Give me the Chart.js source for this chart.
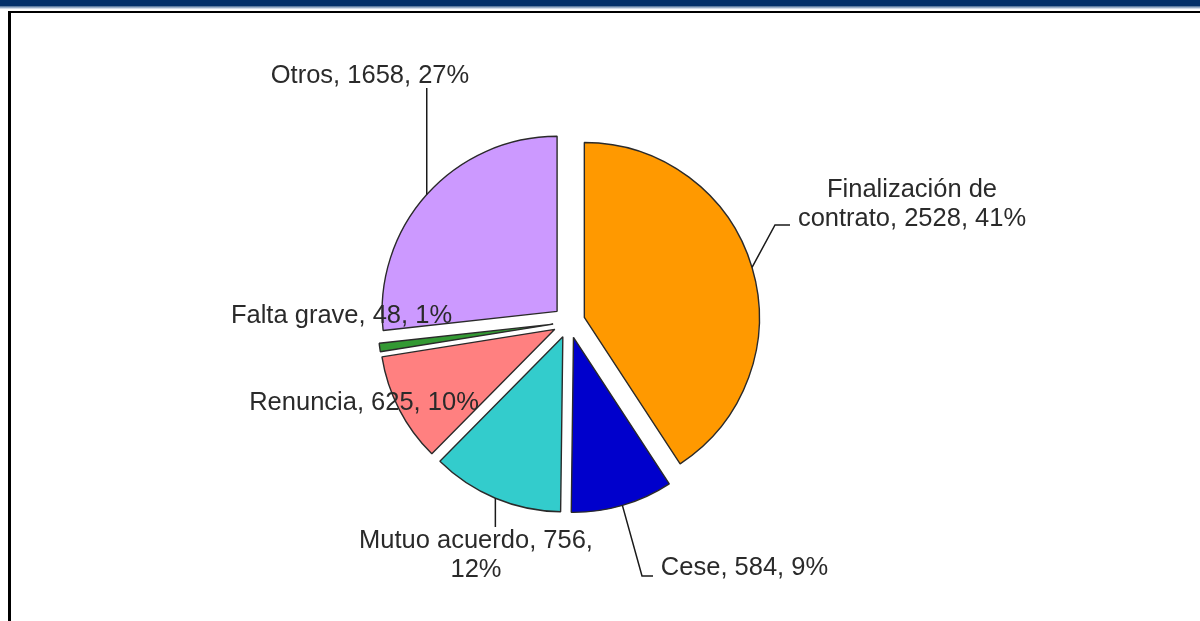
<!DOCTYPE html>
<html>
<head>
<meta charset="utf-8">
<script src="https://cdn.jsdelivr.net/npm/chart.js@4/dist/chart.umd.min.js"></script>
<style>
  html, body { margin: 0; padding: 0; background: #ffffff; }
  #page { position: relative; width: 1200px; height: 621px; overflow: hidden; background: #ffffff; }
  #band { position: absolute; left: 0; top: 0; width: 1200px; height: 6px; background: #03306a; }
  #band2 { position: absolute; left: 0; top: 6px; width: 1200px; height: 3px;
           background: linear-gradient(#41648f, #a9bcd3 60%, #eef2f7); }
  #frame { position: absolute; left: 8px; top: 11px; width: 1300px; height: 700px;
           border-left: 3px solid #000; border-top: 2px solid #000; }
  #chart { position: absolute; left: 0; top: 0; }
</style>
</head>
<body>
<div id="page">
  <div id="band"></div>
  <div id="band2"></div>
  <div id="frame"></div>
  <canvas id="chart" width="1200" height="621"></canvas>
</div>
<script>
// Motivos de baja
const categories = ['Finalización de contrato', 'Cese', 'Mutuo acuerdo', 'Renuncia', 'Falta grave', 'Otros'];
const values = [2528, 584, 756, 625, 48, 1658];
const sliceColors = ['#FF9900', '#0000CC', '#33CCCC', '#FF8080', '#339933', '#CC99FF'];

const total = values.reduce((a, b) => a + b, 0);
const labelTexts = categories.map((c, i) => `${c}, ${values[i]}, ${Math.round(values[i] / total * 100)}%`);

// Drawing settings
const EXPLODE = 16;          // distance each slice is pulled out from the centre
const FONT = '25.5px "Liberation Sans", Arial, sans-serif';
const LINE_H = 29;
const WRAP_W = 245;

// Label placement relative to the pie centre; leader points with null x keep the anchor's x
const labelLayout = [
  { dx: 343,   dy: -125, leader: [[206, -97], [221, -97]] },
  { dx: 175.5, dy: 253,  leader: [[73, 254], [84, 254]] },
  { dx: -93,   dy: 226,  leader: [[null, 205]] },
  { dx: -205,  dy: 88,   leader: [] },
  { dx: -227.5, dy: 1,   leader: [] },
  { dx: -199,  dy: -239, leader: [[null, -234]] }
];

function wrapText(ctx, text, maxW) {
  const words = text.split(' ');
  const lines = [];
  let cur = '';
  for (const w of words) {
    const test = cur ? cur + ' ' + w : w;
    if (cur && ctx.measureText(test).width > maxW) { lines.push(cur); cur = w; }
    else cur = test;
  }
  if (cur) lines.push(cur);
  return lines;
}

// Draws each arc shifted outward along its mid angle
const explodedSlices = {
  id: 'explodedSlices',
  beforeDatasetDraw(chart, args) {
    const ctx = chart.ctx;
    for (const arc of args.meta.data) {
      const mid = (arc.startAngle + arc.endAngle) / 2;
      ctx.save();
      ctx.translate(Math.cos(mid) * EXPLODE, Math.sin(mid) * EXPLODE);
      arc.draw(ctx, chart.chartArea);
      ctx.restore();
    }
    return false;
  }
};

// Data labels with leader lines
const sliceLabels = {
  id: 'sliceLabels',
  afterDraw(chart) {
    const ctx = chart.ctx;
    const arcs = chart.getDatasetMeta(0).data;
    ctx.save();
    ctx.font = FONT;
    ctx.fillStyle = '#2a2a2a';
    ctx.strokeStyle = '#1a1a1a';
    ctx.lineWidth = 1.5;
    arcs.forEach((arc, i) => {
      const lay = labelLayout[i];
      const cx = arc.x, cy = arc.y;
      const mid = (arc.startAngle + arc.endAngle) / 2;
      const r = arc.outerRadius;
      const ax = cx + Math.cos(mid) * (EXPLODE + r);
      const ay = cy + Math.sin(mid) * (EXPLODE + r);
      if (lay.leader.length) {
        ctx.beginPath();
        ctx.moveTo(ax, ay);
        for (const [px, py] of lay.leader) {
          ctx.lineTo(px === null ? ax : cx + px, cy + py);
        }
        ctx.stroke();
      }
      const lines = wrapText(ctx, labelTexts[i], WRAP_W);
      ctx.textAlign = 'center';
      ctx.textBaseline = 'alphabetic';
      lines.forEach((ln, k) => {
        ctx.fillText(ln, cx + lay.dx, cy + lay.dy + k * LINE_H);
      });
    });
    ctx.restore();
  }
};

new Chart(document.getElementById('chart'), {
  type: 'pie',
  data: {
    labels: categories,
    datasets: [{
      data: values,
      backgroundColor: sliceColors,
      borderColor: '#2a2a2a',
      borderWidth: 1.4,
      offset: 0
    }]
  },
  options: {
    responsive: false,
    animation: false,
    radius: 175,
    layout: { padding: { left: 0, right: 62, top: 23, bottom: 0 } },
    plugins: {
      legend: { display: false },
      title: { display: false },
      tooltip: { enabled: false }
    },
    events: []
  },
  plugins: [explodedSlices, sliceLabels]
});
</script>
</body>
</html>
